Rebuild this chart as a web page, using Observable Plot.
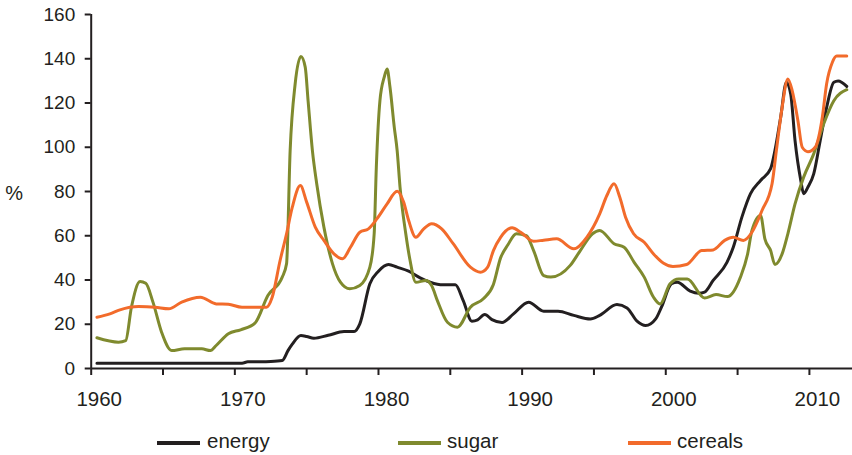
<!DOCTYPE html>
<html>
<head>
<meta charset="utf-8">
<script src="https://cdn.jsdelivr.net/npm/d3@7"></script>
<script src="https://cdn.jsdelivr.net/npm/@observablehq/plot@0.6"></script>
<style>
  body { margin: 0; background: #fff; font-family: "Liberation Sans", Arial, sans-serif; color: #231f20; }
  #legend { position: relative; width: 852px; height: 35px; }
  .sw { position: absolute; height: 4px; width: 43px; top: 21px; }
  .lt { position: absolute; top: 11px; font-size: 20.5px; line-height: 20.5px; white-space: nowrap; }
</style>
</head>
<body>
<div id="chart"></div>
<div id="legend"></div>
<script>
const seriesNames = ["energy", "sugar", "cereals"];
const seriesColors = ["#231f20", "#7f8a2e", "#f26b2b"];

const energyYear = [1960.4, 1970.5, 1970.9, 1972.5, 1973.3, 1973.7, 1974.0, 1974.6, 1975.0, 1975.5, 1976.5, 1977.6, 1978.3, 1978.7, 1979.4, 1980.0, 1980.7, 1981.3, 1982.1, 1982.9, 1983.6, 1984.5, 1985.35, 1985.9, 1986.5, 1986.9, 1987.4, 1987.9, 1988.6, 1989.4, 1990.45, 1991.5, 1992.5, 1993.6, 1994.75, 1995.4, 1996.6, 1997.3, 1998.0, 1998.6, 1999.3, 1999.7, 2000.4, 2000.8, 2001.7, 2002.3, 2002.7, 2003.3, 2004.26, 2004.7, 2005.3, 2005.9, 2006.6, 2007.3, 2007.6, 2008.0, 2008.4, 2008.7, 2009.0, 2009.4, 2009.6, 2009.9, 2010.3, 2010.75, 2011.2, 2011.7, 2012.0, 2012.6];
const energyValue = [2.4, 2.4, 3.0, 3.2, 3.6, 8.1, 11, 14.9, 14.5, 13.7, 15, 16.7, 16.7, 20.2, 38.3, 44, 47, 45.8, 44, 41, 39, 37.8, 37.8, 30.7, 21.4, 22, 24.4, 22.1, 20.8, 24.7, 30, 25.9, 25.9, 24, 22.4, 24, 28.9, 27.4, 21.4, 19.4, 22.4, 27.7, 38.3, 39, 35, 34, 34.5, 39.8, 48, 54.8, 68.4, 79, 85, 90.3, 98.5, 113.6, 129.4, 124, 103, 85, 79, 82, 88, 103, 118, 129.4, 130, 127.5];

const sugarYear = [1960.4, 1961.9, 1962.4, 1962.8, 1963.4, 1963.8, 1964.3, 1964.9, 1965.6, 1966.5, 1967.7, 1968.3, 1968.7, 1969.55, 1970.4, 1971.4, 1972.3, 1973.3, 1973.6, 1973.85, 1974.2, 1974.6, 1974.9, 1975.1, 1975.4, 1975.7, 1976.2, 1976.8, 1977.35, 1978.0, 1978.7, 1979.4, 1979.7, 1979.85, 1980.1, 1980.4, 1980.6, 1980.8, 1981.1, 1981.3, 1981.5, 1981.9, 1982.2, 1982.6, 1983.3, 1983.7, 1984.1, 1984.8, 1985.5, 1986.4, 1987.3, 1988.0, 1988.5, 1989.0, 1989.6, 1990.3, 1990.8, 1991.5, 1992.0, 1993.35, 1994.05, 1994.9, 1995.4, 1996.4, 1997.1, 1997.8, 1998.5, 1999.15, 1999.6, 2000.3, 2000.9, 2001.5, 2002.7, 2003.5, 2004.3, 2005.2, 2005.7, 2006.0, 2006.6, 2006.9, 2007.3, 2007.6, 2008.1, 2008.5, 2009.0, 2009.6, 2010.3, 2011.0, 2011.7, 2012.6];
const sugarValue = [13.9, 11.9, 12.6, 27.7, 39.3, 38.5, 30, 16.4, 8.1, 8.9, 8.9, 8.1, 10.4, 15.7, 17.5, 20.5, 33, 41.3, 47.3, 98.5, 128.7, 141, 136.2, 121, 98.5, 83.5, 63.9, 47.3, 39, 36, 37.5, 45.8, 60.9, 91, 121, 131.7, 135.4, 127.2, 109, 98.5, 82, 60.9, 48.8, 39, 39.8, 37.5, 30.7, 20.9, 18.7, 27.7, 31.5, 38, 50, 55.8, 60.9, 60, 53.3, 42, 41.3, 46.6, 53.3, 60.9, 62.4, 56.4, 54.8, 48, 41.3, 32.2, 29.2, 38.3, 40.5, 40.5, 31.9, 33.4, 32.5, 41.3, 51.8, 62.4, 69.2, 58.6, 53.3, 47, 51.8, 60.9, 74.4, 86.5, 97, 110.6, 121, 126];

const cerealsYear = [1960.4, 1961.3, 1962.0, 1963.3, 1964.45, 1965.4, 1966.3, 1967.6, 1968.7, 1969.55, 1970.5, 1972.2, 1972.6, 1973.15, 1973.6, 1974.0, 1974.56, 1975.0, 1975.6, 1976.2, 1976.9, 1977.5, 1978.05, 1978.7, 1979.3, 1979.9, 1980.6, 1981.3, 1981.75, 1982.1, 1982.6, 1983.15, 1983.7, 1984.4, 1985.2, 1986.4, 1987.1, 1987.6, 1988.0, 1988.5, 1989.3, 1989.9, 1990.8, 1991.5, 1992.4, 1993.6, 1994.5, 1995.4, 1995.9, 1996.4, 1996.8, 1997.2, 1997.76, 1998.5, 1999.15, 1999.85, 2000.5, 2001.45, 2002.5, 2003.3, 2004.1, 2004.7, 2005.4, 2006.0, 2006.7, 2007.4, 2007.7, 2008.1, 2008.5, 2008.8, 2009.2, 2009.5, 2009.9, 2010.4, 2010.9, 2011.2, 2011.6, 2011.9, 2012.6];
const cerealsValue = [23.2, 24.7, 26.5, 28, 27.7, 27, 30, 32.2, 29.2, 29, 27.7, 27.7, 32.2, 48.8, 60.9, 72.9, 82.7, 75.2, 63.9, 57.9, 51.8, 49.6, 54.8, 61.6, 63.1, 67.7, 74.4, 80.1, 75.2, 66.9, 59.3, 63.1, 65.4, 63.1, 56.4, 45.8, 43.5, 45.8, 53.3, 59.3, 63.6, 61.6, 57.5, 58, 58.6, 54.1, 59.3, 69.9, 78.2, 83.5, 77.4, 68.4, 60.9, 57.1, 51.8, 47.6, 46.1, 47, 53.3, 53.6, 57.9, 59.3, 57.9, 61.6, 71.4, 83.5, 98.5, 118, 130.9, 125.6, 112, 100, 98, 100, 113.6, 128.7, 138.4, 141.2, 141.2];

const yTicks = [0, 20, 40, 60, 80, 100, 120, 140, 160];
const xTicks = [1960, 1965, 1970, 1975, 1980, 1985, 1990, 1995, 2000, 2005, 2010];
const xLabels = [1960, 1970, 1980, 1990, 2000, 2010];
const yUnit = "%";

const toRows = (name, ys, vs) => ys.map((y, i) => ({series: name, year: y, value: vs[i]}));
const rows = [
  ...toRows("energy", energyYear, energyValue),
  ...toRows("sugar", sugarYear, sugarValue),
  ...toRows("cereals", cerealsYear, cerealsValue)
];

const chart = Plot.plot({
  width: 852,
  height: 420,
  marginLeft: 90.7,
  marginRight: 0,
  marginTop: 14,
  marginBottom: 52,
  style: {fontFamily: "'Liberation Sans', Arial, sans-serif", color: "#231f20", background: "#fff"},
  x: {domain: [1960, 2013]},
  y: {domain: [0, 160]},
  color: {domain: seriesNames, range: seriesColors},
  marks: [
    Plot.axisY({ticks: yTicks, tickSize: 6, tickPadding: 10, fontSize: 19, label: null, strokeWidth: 2}),
    Plot.axisX({ticks: xTicks, tickSize: 7, text: null, label: null, strokeWidth: 2}),
    Plot.axisX({ticks: xLabels, tickSize: 0, tickPadding: 23, dx: 8, fontSize: 20.5, label: null, tickFormat: d => String(d)}),
    Plot.text([yUnit], {frameAnchor: "left", y: [79], text: d => d, dx: -77, textAnchor: "middle", fontSize: 20}),
    Plot.line(rows, {x: "year", y: "value", z: "series", stroke: "series", strokeWidth: 3, curve: "monotone-x", strokeLinejoin: "round"}),
    Plot.ruleX([1960], {y1: 0, y2: 160, strokeWidth: 2, stroke: "#231f20"}),
    Plot.ruleY([0], {strokeWidth: 2, stroke: "#231f20"})
  ]
});
document.getElementById("chart").appendChild(chart);

const legendPos = [[157, 207], [398, 447], [628, 677]];
const legend = document.getElementById("legend");
seriesNames.forEach((name, i) => {
  const sw = document.createElement("div");
  sw.className = "sw";
  sw.style.left = legendPos[i][0] + "px";
  sw.style.background = seriesColors[i];
  legend.appendChild(sw);
  const t = document.createElement("div");
  t.className = "lt";
  t.style.left = legendPos[i][1] + "px";
  t.textContent = name;
  legend.appendChild(t);
});
</script>
</body>
</html>
